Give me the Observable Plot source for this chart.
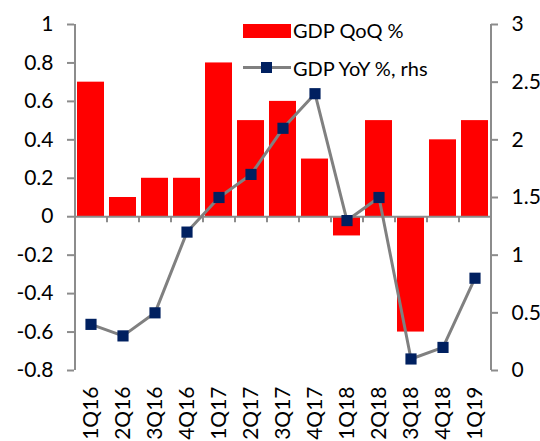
<!DOCTYPE html>
<html>
<head>
<meta charset="utf-8">
<script src="https://cdn.jsdelivr.net/npm/d3@7"></script>
<script src="https://cdn.jsdelivr.net/npm/@observablehq/plot@0.6"></script>
<style>
  body { margin: 0; background: #fff; }
  #wrap { position: relative; width: 540px; height: 441px; font-family: Lato, sans-serif; }
  .leg { position: absolute; font-size: 20px; color: #000; line-height: 1; white-space: nowrap; }
</style>
</head>
<body>
<div id="wrap"></div>
<script>
const quarters = ["1Q16","2Q16","3Q16","4Q16","1Q17","2Q17","3Q17","4Q17","1Q18","2Q18","3Q18","4Q18","1Q19"];
const gdpQoQ = [0.7, 0.1, 0.2, 0.2, 0.8, 0.5, 0.6, 0.3, -0.1, 0.5, -0.6, 0.4, 0.5];
const gdpYoY = [0.4, 0.3, 0.5, 1.2, 1.5, 1.7, 2.1, 2.4, 1.3, 1.5, 0.1, 0.2, 0.8];
const leftTicks = [-0.8, -0.6, -0.4, -0.2, 0, 0.2, 0.4, 0.6, 0.8, 1];
const rightTicks = [0, 0.5, 1, 1.5, 2, 2.5, 3];

const leftDomain = [-0.8, 1];
const rightDomain = [0, 3];
const toLeft = v => leftDomain[0] + (v - rightDomain[0]) * (leftDomain[1] - leftDomain[0]) / (rightDomain[1] - rightDomain[0]);
const toRight = v => rightDomain[0] + (v - leftDomain[0]) * (rightDomain[1] - rightDomain[0]) / (leftDomain[1] - leftDomain[0]);
const fmt = v => String(+v.toFixed(2));

const data = quarters.map((q, i) => ({q, qoq: gdpQoQ[i], yoy: gdpYoY[i]}));
const axisColor = "#8c8c8c";

const chart = Plot.plot({
  width: 540,
  height: 441,
  marginLeft: 74,
  marginRight: 50,
  marginTop: 24,
  marginBottom: 71,
  style: {fontFamily: "Lato, sans-serif", fontSize: "21px", color: "#000", background: "#fff"},
  x: {domain: quarters, paddingInner: 0.16, paddingOuter: 0.08, label: null},
  y: {domain: leftDomain, label: null},
  marks: [
    Plot.barY(data, {x: "q", y: "qoq", fill: "#ff0000"}),
    Plot.ruleY([0], {stroke: axisColor, strokeWidth: 2}),
    Plot.ruleX(quarters, {x: d => d, dx: -16, y1: 0, y2: -0.032, stroke: axisColor, strokeWidth: 2}),
    Plot.ruleX([quarters[0]], {x: d => d, dx: -16, stroke: axisColor, strokeWidth: 2}),
    Plot.ruleX([quarters[quarters.length - 1]], {x: d => d, dx: 16, stroke: axisColor, strokeWidth: 2}),
    Plot.axisY(leftTicks, {anchor: "left", label: null, tickSize: 7, tickPadding: 14, stroke: axisColor, strokeWidth: 2, tickFormat: fmt, fill: "#000"}),
    Plot.axisY(rightTicks.map(toLeft), {anchor: "right", label: null, tickSize: 7, tickPadding: 14, stroke: axisColor, strokeWidth: 2, tickFormat: v => fmt(toRight(v)), fill: "#000"}),
    Plot.axisX({anchor: "bottom", label: null, tickRotate: -90, tickSize: 0, tickPadding: 16, fill: "#000"}),
    Plot.line(data, {x: "q", y: d => toLeft(d.yoy), stroke: "#808080", strokeWidth: 3}),
    Plot.dot(data, {x: "q", y: d => toLeft(d.yoy), symbol: "square", r: 6.3, fill: "#002060", stroke: "none"})
  ]
});

const wrap = document.getElementById("wrap");
wrap.appendChild(chart);

// Legend
const legend = [
  {html: '<div style="position:absolute;left:243px;top:24px;width:48px;height:14px;background:#ff0000"></div>'},
  {html: '<div class="leg" style="left:293px;top:20px">GDP QoQ %</div>'},
  {html: '<div style="position:absolute;left:243px;top:66px;width:48px;height:3px;background:#808080"></div>'},
  {html: '<div style="position:absolute;left:261px;top:62px;width:11px;height:11px;background:#002060"></div>'},
  {html: '<div class="leg" style="left:293px;top:58px">GDP YoY %, rhs</div>'}
];
for (const l of legend) wrap.insertAdjacentHTML("beforeend", l.html);
</script>
</body>
</html>
